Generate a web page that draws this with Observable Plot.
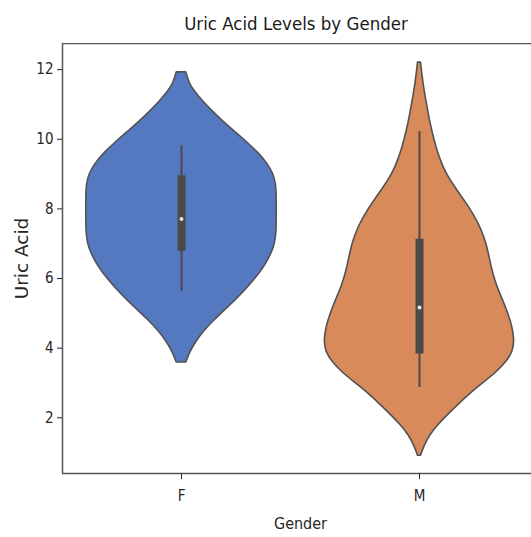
<!DOCTYPE html>
<html>
<head>
<meta charset="utf-8">
<script src="https://cdn.jsdelivr.net/npm/d3@7"></script>
<script src="https://cdn.jsdelivr.net/npm/@observablehq/plot@0.6"></script>
<style>
  body { margin: 0; background: #fff; font-family: "DejaVu Sans Condensed", "DejaVu Sans", sans-serif; }
  #wrap { position: relative; width: 531px; height: 537px; overflow: hidden; }
  #title { position: absolute; left: 296px; top: 13px; transform: translateX(-50%); font-size: 18.5px; color: #1a1a1a; white-space: nowrap; line-height: 22px; }
  #chart { position: absolute; left: 0; top: 43px; }
  #chart svg g[aria-label="y-axis label"] text { font-family: "DejaVu Sans", sans-serif; font-size: 18.5px; }
  #chart svg g[aria-label="x-axis label"] text { font-size: 16px; }
</style>
</head>
<body>
<div id="wrap">
  <div id="title">Uric Acid Levels by Gender</div>
  <div id="chart"></div>
</div>
<script>
// Categories
const genders = ["F", "M"];
const colors = ["#5579c1", "#d98a5b"];

// Violin outline: uric acid value and relative half-width (1 = widest)
const femaleLevels = [11.92, 11.6, 11.38, 11.1, 10.8, 10.5, 10.2, 9.9, 9.6, 9.3, 9.0, 8.7, 8.4, 8.1, 7.8, 7.5, 7.2, 6.9, 6.6, 6.3, 6.0, 5.7, 5.4, 5.1, 4.8, 4.5, 4.2, 3.9, 3.59];
const femaleWidths = [0.05, 0.084, 0.137, 0.221, 0.326, 0.442, 0.568, 0.695, 0.811, 0.905, 0.968, 0.995, 1.0, 1.0, 1.0, 1.0, 0.995, 0.974, 0.926, 0.863, 0.779, 0.684, 0.579, 0.463, 0.347, 0.242, 0.158, 0.095, 0.05];

const maleLevels = [12.2, 11.8, 11.4, 11.0, 10.6, 10.2, 9.8, 9.4, 9.0, 8.6, 8.2, 7.8, 7.4, 7.0, 6.6, 6.2, 5.8, 5.4, 5.0, 4.6, 4.2, 3.9, 3.6, 3.3, 3.0, 2.7, 2.4, 2.1, 1.8, 1.5, 1.2, 0.91];
const maleWidths = [0.016, 0.032, 0.053, 0.079, 0.105, 0.137, 0.174, 0.221, 0.284, 0.379, 0.484, 0.579, 0.653, 0.705, 0.737, 0.768, 0.811, 0.874, 0.932, 0.979, 1.0, 0.984, 0.916, 0.811, 0.674, 0.537, 0.421, 0.305, 0.2, 0.111, 0.053, 0.016];

// Inner box plot statistics
const whiskerLow = [5.63, 2.87];
const q1 = [6.78, 3.83];
const medians = [7.71, 5.17];
const q3 = [8.95, 7.13];
const whiskerHigh = [9.81, 10.22];

// y ticks and axis limits
const yTicks = [2, 4, 6, 8, 10, 12];
const yDomain = [0.40, 12.75];
const xDomain = [-0.5, 1.5];

const halfWidth = 0.4;
const violinRows = [];
[[femaleLevels, femaleWidths], [maleLevels, maleWidths]].forEach(([lv, wd], gi) => {
  lv.forEach((v, i) => violinRows.push({g: gi, y: v, w: wd[i]}));
});
violinRows.sort((a, b) => a.g - b.g || a.y - b.y);
const boxRows = genders.map((g, i) => ({
  g: i, lo: whiskerLow[i], q1: q1[i], med: medians[i], q3: q3[i], hi: whiskerHigh[i]
}));

const textColor = "#262626";
const frameColor = "#555555";
const outline = "#525252";

const violin = (gi) => Plot.areaX(violinRows.filter(d => d.g === gi), {
  y: "y", x1: d => d.g - d.w * halfWidth, x2: d => d.g + d.w * halfWidth,
  fill: colors[gi], stroke: outline, strokeWidth: 1.6, curve: "basis"
});

const plot = Plot.plot({
  width: 531,
  height: 494,
  marginLeft: 62,
  marginRight: -7,
  marginTop: 0,
  marginBottom: 64,
  style: {fontFamily: "'DejaVu Sans Condensed', 'DejaVu Sans', sans-serif", fontSize: "15px", color: textColor, background: "white"},
  x: {domain: xDomain},
  y: {domain: yDomain},
  marks: [
    violin(0),
    violin(1),
    Plot.ruleX(boxRows, {x: "g", y1: "lo", y2: "hi", stroke: "#4a4a4a", strokeWidth: 2}),
    Plot.ruleX(boxRows, {x: "g", y1: "q1", y2: "q3", stroke: "#4a4a4a", strokeWidth: 8}),
    Plot.dot(boxRows, {x: "g", y: "med", r: 2, fill: "#e6e6e6", stroke: null}),
    Plot.ruleX([xDomain[0]], {stroke: frameColor, strokeWidth: 1.5}),
    Plot.ruleY(yDomain, {stroke: frameColor, strokeWidth: 1.5}),
    Plot.axisY({ticks: yTicks, tickSize: 5, tickPadding: 4, fontSize: 15, label: "Uric Acid", labelAnchor: "center", labelOffset: 48, labelArrow: false}),
    Plot.axisX({ticks: [0, 1], tickFormat: d => genders[d], tickSize: 6, tickPadding: 11, fontSize: 15, label: "Gender", labelAnchor: "center", labelOffset: 55, labelArrow: false})
  ]
});
document.getElementById("chart").appendChild(plot);
</script>
</body>
</html>
